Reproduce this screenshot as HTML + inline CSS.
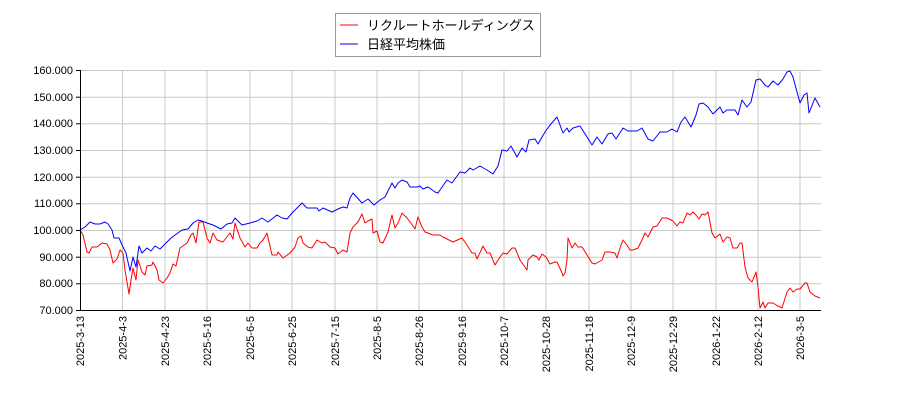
<!DOCTYPE html>
<html><head><meta charset="utf-8"><style>
body{margin:0;background:#fff;}
svg{display:block;font-family:"Liberation Sans","Noto Sans CJK JP",sans-serif;}
</style></head><body>
<svg width="900" height="400" viewBox="0 0 900 400" xmlns="http://www.w3.org/2000/svg">
<g stroke="#c8c8c8" stroke-width="1">
<line x1="80" y1="70.5" x2="821" y2="70.5"/><line x1="80" y1="97.2" x2="821" y2="97.2"/><line x1="80" y1="123.8" x2="821" y2="123.8"/><line x1="80" y1="150.5" x2="821" y2="150.5"/><line x1="80" y1="177.2" x2="821" y2="177.2"/><line x1="80" y1="203.8" x2="821" y2="203.8"/><line x1="80" y1="230.5" x2="821" y2="230.5"/><line x1="80" y1="257.2" x2="821" y2="257.2"/><line x1="80" y1="283.8" x2="821" y2="283.8"/>
<line x1="122.5" y1="70" x2="122.5" y2="310"/><line x1="165" y1="70" x2="165" y2="310"/><line x1="207" y1="70" x2="207" y2="310"/><line x1="250" y1="70" x2="250" y2="310"/><line x1="292" y1="70" x2="292" y2="310"/><line x1="335" y1="70" x2="335" y2="310"/><line x1="377" y1="70" x2="377" y2="310"/><line x1="419" y1="70" x2="419" y2="310"/><line x1="462" y1="70" x2="462" y2="310"/><line x1="504" y1="70" x2="504" y2="310"/><line x1="546" y1="70" x2="546" y2="310"/><line x1="589" y1="70" x2="589" y2="310"/><line x1="631" y1="70" x2="631" y2="310"/><line x1="673" y1="70" x2="673" y2="310"/><line x1="716" y1="70" x2="716" y2="310"/><line x1="758" y1="70" x2="758" y2="310"/><line x1="800" y1="70" x2="800" y2="310"/>
</g>
<polyline fill="none" stroke="#0000ff" stroke-width="1" stroke-linejoin="round" points="80,230 85,227 90,222 95,224 100,224 105,222 108,224 112,230 114,238 119,238 123,247 126,253 130,271 133,257 136,267 139,246 142,253 147,248 151,251 155,246 160,249 165,244 170,239 175,235 182,230 188,229 193,223 198,220 202,221 207,223 213,225 221,229 227,224 232,223 235,218 242,225 250,223 257,221 262,218 268,222 277,215 282,218 287,219 293,212 302,203 307,208 317,208 319,211 323,208 332,212 338,209 343,207 347,208 350,198 353,193 362,203 368,199 374,205 380,200 385,197 392,183 395,188 398,183 402,180 407,182 410,187 417,187 420,186 423,189 428,187 435,192 438,193 440,190 447,180 452,183 460,172 465,173 470,168 473,170 480,166 487,170 493,174 498,166 502,150 507,151 511,146 517,157 522,148 526,152 529,140 535,139 538,144 545,132 550,125 557,117 563,133 567,128 569,132 573,128 580,126 587,137 592,145 597,137 602,144 608,134 612,133 616,139 623,128 628,131 637,131 642,128 648,139 653,141 660,132 667,132 672,129 677,132 681,122 685,117 691,127 696,115 699,104 703,103 708,107 713,114 720,107 723,113 727,110 735,110 738,115 742,100 747,107 751,102 756,80 760,79 765,85 768,87 773,81 778,85 783,79 787,72 790,71 793,77 800,103 804,95 807,93 809,113 815,98 820,107"/>
<polyline fill="none" stroke="#ff0000" stroke-width="1" stroke-linejoin="round" points="80,230 83,235 87,252 89,253 92,247 97,247 102,243 107,244 110,250 113,263 117,259 120,250 123,253 125,270 129,294 131,280 133,268 136,280 138,260 142,272 145,275 147,266 152,265 153,262 157,270 159,280 163,283 167,278 170,273 173,264 176,266 180,248 187,243 191,235 193,233 196,243 199,222 203,222 207,238 210,243 213,233 217,240 223,242 230,233 233,239 235,223 240,238 245,247 248,243 252,248 257,248 260,243 263,240 267,233 272,255 277,255 278,252 283,258 290,253 295,247 298,238 301,236 303,243 308,247 312,248 317,240 322,243 325,242 330,247 335,248 338,254 343,250 347,252 350,233 353,227 358,222 362,214 365,223 368,221 372,219 373,233 377,231 380,242 383,243 388,232 392,215 395,228 398,223 402,213 407,218 413,226 415,229 418,217 422,227 425,232 428,233 433,235 440,235 443,237 453,242 462,238 467,245 472,253 475,253 477,259 483,246 487,253 490,253 495,265 500,257 503,253 507,254 512,248 515,248 520,260 527,270 528,260 533,255 537,257 539,260 542,254 546,257 550,264 555,262 557,262 562,273 563,276 565,273 567,260 568,238 572,248 575,243 578,247 582,247 587,255 592,263 595,264 602,260 605,252 610,252 615,253 617,258 620,248 623,240 627,245 630,250 633,250 638,248 642,240 645,233 648,237 653,227 657,226 662,218 667,218 673,221 677,226 680,222 683,223 687,213 690,215 693,212 696,215 699,219 702,214 705,215 708,212 712,233 715,238 720,234 723,242 727,237 730,238 733,248 737,248 740,243 742,243 745,267 748,278 752,282 756,272 758,287 760,308 763,302 765,308 768,303 773,303 778,306 782,308 787,292 790,288 793,292 797,289 800,289 805,283 807,283 810,292 815,296 820,298"/>
<g stroke="#000" stroke-width="1">
<line x1="80.5" y1="70" x2="80.5" y2="310"/><line x1="80" y1="310.5" x2="821" y2="310.5"/>
</g>
<g stroke="#000" stroke-width="1">
<line x1="76" y1="70.5" x2="80" y2="70.5"/><line x1="76" y1="97.2" x2="80" y2="97.2"/><line x1="76" y1="123.8" x2="80" y2="123.8"/><line x1="76" y1="150.5" x2="80" y2="150.5"/><line x1="76" y1="177.2" x2="80" y2="177.2"/><line x1="76" y1="203.8" x2="80" y2="203.8"/><line x1="76" y1="230.5" x2="80" y2="230.5"/><line x1="76" y1="257.2" x2="80" y2="257.2"/><line x1="76" y1="283.8" x2="80" y2="283.8"/><line x1="76" y1="310.5" x2="80" y2="310.5"/>
</g>
<g font-size="11" fill="#000" text-anchor="end">
<text x="73" y="74">160.000</text><text x="73" y="101">150.000</text><text x="73" y="127">140.000</text><text x="73" y="154">130.000</text><text x="73" y="181">120.000</text><text x="73" y="207">110.000</text><text x="73" y="234">100.000</text><text x="73" y="261">90.000</text><text x="73" y="287">80.000</text><text x="73" y="314">70.000</text>
</g>
<g font-size="11" fill="#000" text-anchor="end">
<text transform="translate(84,316) rotate(-90)">2025-3-13</text>
<text transform="translate(126.5,316) rotate(-90)">2025-4-3</text>
<text transform="translate(169,316) rotate(-90)">2025-4-23</text>
<text transform="translate(211,316) rotate(-90)">2025-5-16</text>
<text transform="translate(254,316) rotate(-90)">2025-6-5</text>
<text transform="translate(296,316) rotate(-90)">2025-6-25</text>
<text transform="translate(339,316) rotate(-90)">2025-7-15</text>
<text transform="translate(381,316) rotate(-90)">2025-8-5</text>
<text transform="translate(423,316) rotate(-90)">2025-8-26</text>
<text transform="translate(466,316) rotate(-90)">2025-9-16</text>
<text transform="translate(508,316) rotate(-90)">2025-10-7</text>
<text transform="translate(550,316) rotate(-90)">2025-10-28</text>
<text transform="translate(593,316) rotate(-90)">2025-11-18</text>
<text transform="translate(635,316) rotate(-90)">2025-12-9</text>
<text transform="translate(677,316) rotate(-90)">2025-12-29</text>
<text transform="translate(720,316) rotate(-90)">2026-1-22</text>
<text transform="translate(762,316) rotate(-90)">2026-2-12</text>
<text transform="translate(804,316) rotate(-90)">2026-3-5</text>
</g>
<rect x="335.5" y="13.5" width="205" height="43" fill="#fff" stroke="#999"/>
<line x1="340" y1="25" x2="358" y2="25" stroke="#ff0000"/>
<line x1="340" y1="44" x2="358" y2="44" stroke="#0000ff"/>
<text x="367" y="30" font-size="13">リクルートホールディングス</text>
<text x="367" y="49" font-size="13">日経平均株価</text>
</svg>
</body></html>
